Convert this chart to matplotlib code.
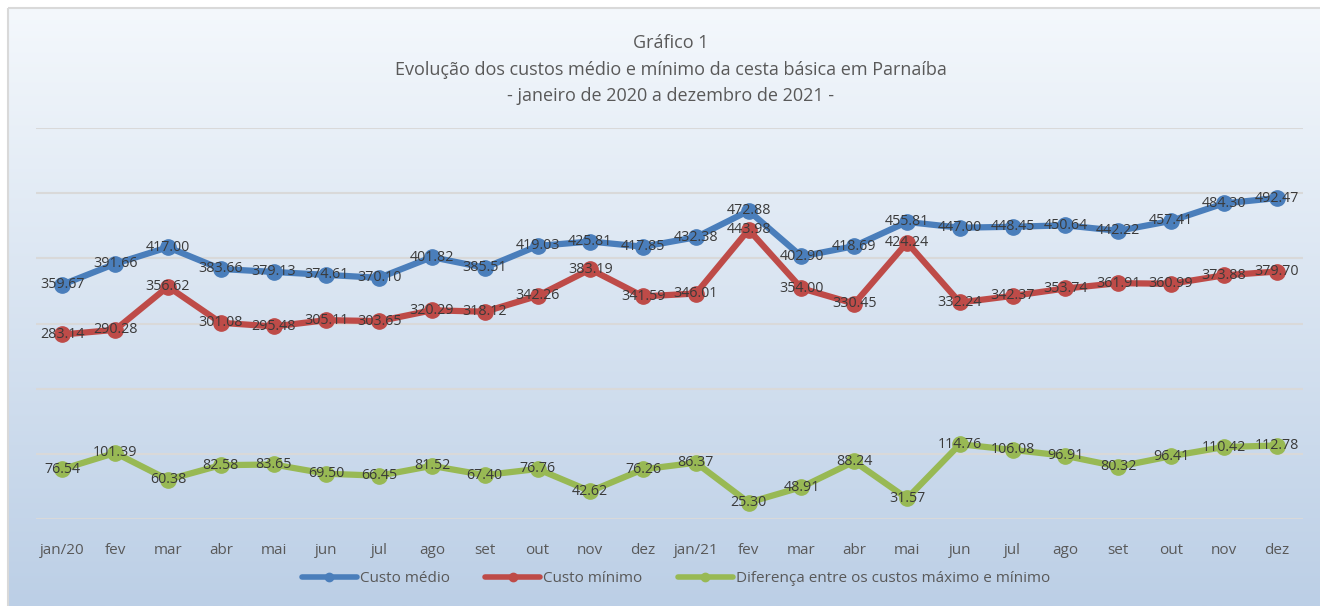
import numpy as np
import matplotlib
matplotlib.use('Agg')
import matplotlib.pyplot as plt
from matplotlib.colors import LinearSegmentedColormap
from matplotlib.patches import Rectangle

plt.rcParams['font.family'] = ['Open Sans', 'DejaVu Sans']

# Meses (jan/2020 a dez/2021)
meses = ['jan/20', 'fev', 'mar', 'abr', 'mai', 'jun', 'jul', 'ago', 'set', 'out', 'nov', 'dez',
         'jan/21', 'fev', 'mar', 'abr', 'mai', 'jun', 'jul', 'ago', 'set', 'out', 'nov', 'dez']

# Custo médio da cesta
custo_medio = [359.67, 391.66, 417.00, 383.66, 379.13, 374.61, 370.10, 401.82, 385.51, 419.03, 425.81, 417.85,
               432.38, 472.88, 402.90, 418.69, 455.81, 447.00, 448.45, 450.64, 442.22, 457.41, 484.30, 492.47]
# Custo mínimo da cesta
custo_minimo = [283.14, 290.28, 356.62, 301.08, 295.48, 305.11, 303.65, 320.29, 318.12, 342.26, 383.19, 341.59,
                346.01, 443.98, 354.00, 330.45, 424.24, 332.24, 342.37, 353.74, 361.91, 360.99, 373.88, 379.70]
# Diferença entre os custos máximo e mínimo
diferenca = [76.54, 101.39, 60.38, 82.58, 83.65, 69.50, 66.45, 81.52, 67.40, 76.76, 42.62, 76.26,
             86.37, 25.30, 48.91, 88.24, 31.57, 114.76, 106.08, 96.91, 80.32, 96.41, 110.42, 112.78]

series = [
    ('Custo médio', custo_medio, '#4A7EBB'),
    ('Custo mínimo', custo_minimo, '#BE4B48'),
    ('Diferença entre os custos máximo e mínimo', diferenca, '#98B954'),
]

fig = plt.figure(figsize=(13.2, 6.06), dpi=100)

# Fundo com degradê (branco para azul claro)
bg = fig.add_axes([0, 0, 1, 1], zorder=-10)
bg.set_xlim(0, 1320)
bg.set_ylim(606, 0)
bg.axis('off')
cmap = LinearSegmentedColormap.from_list('fundo', ['#F4F8FC', '#BCCFE6'])
grad = np.linspace(0, 1, 256).reshape(-1, 1)
bg.imshow(grad, cmap=cmap, aspect='auto', extent=[8, 1320, 606, 8])
bg.add_patch(Rectangle((8, 8), 1330, 610, fill=False, edgecolor='#D9D9D9', linewidth=1.5))

ax = fig.add_axes([36 / 1320, 1 - 519 / 606, 1267 / 1320, 391 / 606])
ax.patch.set_alpha(0)
x = np.arange(len(meses))

for nome, valores, cor in series:
    ax.plot(x, valores, color=cor, linewidth=4.5, marker='o', markersize=11, label=nome,
            solid_capstyle='round', solid_joinstyle='round')

# Rótulos de dados centralizados nos pontos
for nome, valores, cor in series:
    for xi, v in zip(x, valores):
        ax.text(xi, v, f'{v:.2f}', ha='center', va='center', fontsize=10.3, color='#3A3A3A', zorder=5)

ax.set_xlim(-0.5, len(meses) - 0.5)
ax.set_ylim(0, 600)
ax.set_yticks(range(0, 601, 100))
ax.set_yticklabels([])
ax.tick_params(axis='y', length=0)
ax.grid(axis='y', color='#D9D9D9', linewidth=1.5)
ax.set_axisbelow(True)
ax.set_xticks(x)
ax.set_xticklabels(meses, fontsize=11, color='#595959')
ax.tick_params(axis='x', length=0, pad=17)
for s in ax.spines.values():
    s.set_visible(False)

fig.text(0.508, 1 - 43 / 606, 'Gráfico 1', ha='center', va='center', fontsize=13, color='#595959')
fig.text(0.508, 1 - 70 / 606, 'Evolução dos custos médio e mínimo da cesta básica em Parnaíba',
         ha='center', va='center', fontsize=13, color='#595959')
fig.text(0.508, 1 - 96 / 606, '- janeiro de 2020 a dezembro de 2021 -',
         ha='center', va='center', fontsize=13, color='#595959')

handles, labels = ax.get_legend_handles_labels()
leg = fig.legend(handles, labels, loc='center', bbox_to_anchor=(0.512, 1 - 579 / 606), ncol=3,
                 frameon=False, fontsize=11, handlelength=3.6, columnspacing=2.3, handletextpad=0.2,
                 labelcolor='#595959')
for h in leg.legend_handles:
    h.set_markersize(6)
    h.set_linewidth(4)

fig.savefig('out.png', dpi=100)
